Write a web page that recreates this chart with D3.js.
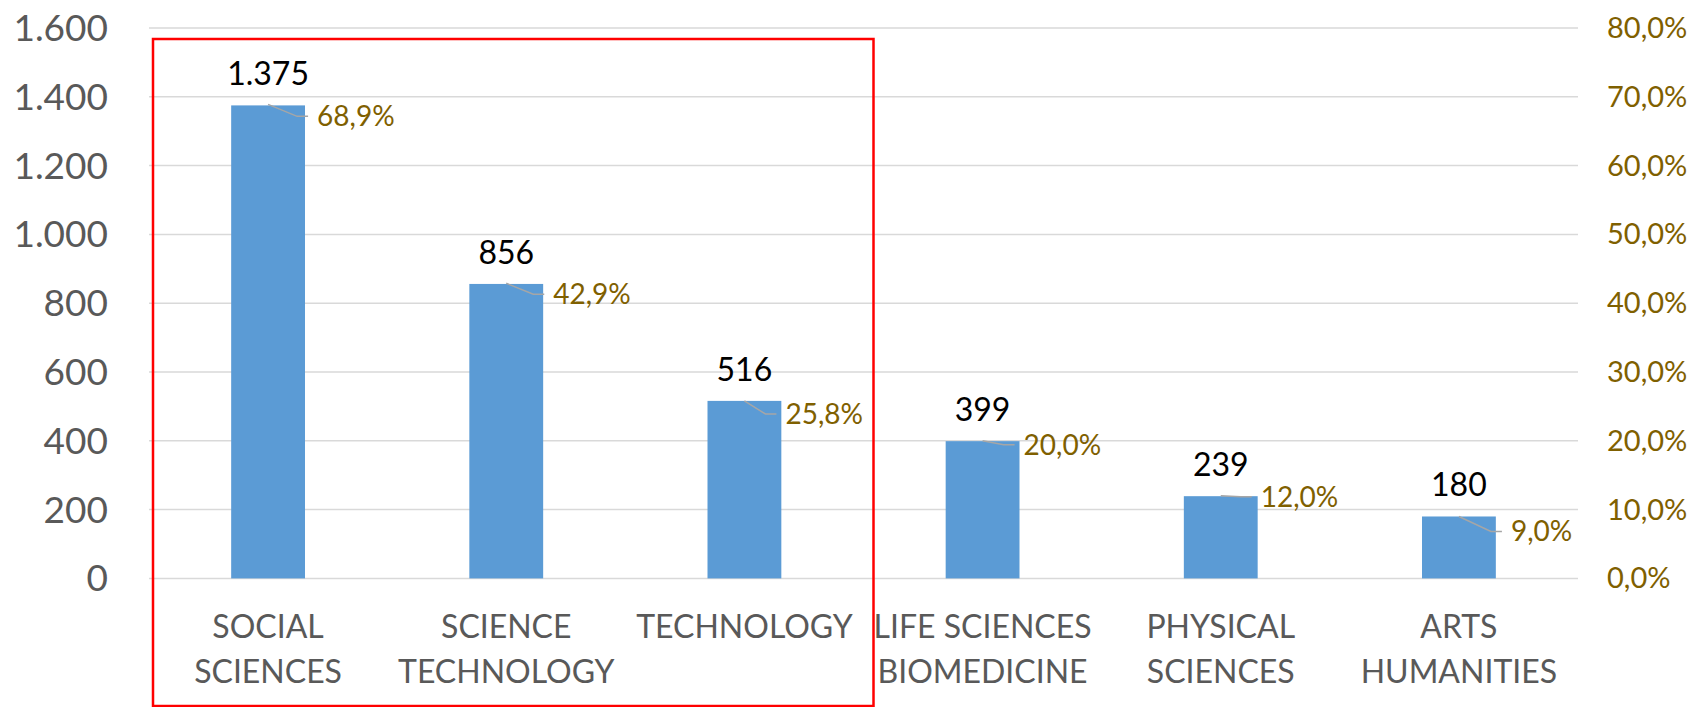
<!DOCTYPE html>
<html>
<head>
<meta charset="utf-8">
<script src="https://cdn.jsdelivr.net/npm/d3@7"></script>
<style>
  html, body { margin: 0; padding: 0; background: #fff; }
  svg { display: block; font-family: Lato, "Open Sans", sans-serif; }
</style>
</head>
<body>
<svg id="chart"></svg>
<script>
const width = 1694, height = 707;

// data
const categories = ["SOCIAL\nSCIENCES", "SCIENCE\nTECHNOLOGY", "TECHNOLOGY",
  "LIFE SCIENCES\nBIOMEDICINE", "PHYSICAL\nSCIENCES", "ARTS\nHUMANITIES"];
const counts = [1375, 856, 516, 399, 239, 180];
const shares = [68.9, 42.9, 25.8, 20.0, 12.0, 9.0]; // percent
const countTicks = [0, 200, 400, 600, 800, 1000, 1200, 1400, 1600];
const shareTicks = [0, 10, 20, 30, 40, 50, 60, 70, 80];
const highlighted = ["SOCIAL\nSCIENCES", "SCIENCE\nTECHNOLOGY", "TECHNOLOGY"];

// manual label nudges (like in the original sheet), px from the point
const shareLabelDx = [49, 47, 41, 41, 40, 52];
const shareLabelDy = [12, 11, 13, 4, 1, 15];

const plot = { left: 149, right: 1578, top: 28, bottom: 578.4 };

const locale = d3.formatLocale({ decimal: ",", thousands: ".", grouping: [3], currency: ["", "€"] });
const fmtCount = locale.format(",d");
const fmtShare = d => locale.format(".1f")(d) + "%";

const svg = d3.select("#chart").attr("width", width).attr("height", height);
svg.append("rect").attr("width", width).attr("height", height).attr("fill", "#fff");

const x = d3.scaleBand()
  .domain(categories)
  .range([plot.left, plot.right])
  .paddingInner(0.69)
  .paddingOuter(0.345);

const y = d3.scaleLinear().domain([0, 1600]).range([plot.bottom, plot.top]);
const y2 = d3.scaleLinear().domain([0, 80]).range([plot.bottom, plot.top]);

// gridlines
svg.append("g")
  .selectAll("line")
  .data(countTicks)
  .join("line")
  .attr("x1", plot.left).attr("x2", plot.right)
  .attr("y1", d => y(d)).attr("y2", d => y(d))
  .attr("stroke", "#d9d9d9").attr("stroke-width", 1.5);

// left axis labels
svg.append("g")
  .selectAll("text")
  .data(countTicks)
  .join("text")
  .attr("x", 108)
  .attr("y", d => y(d) + 13)
  .attr("text-anchor", "end")
  .attr("fill", "#595959")
  .attr("font-size", 37)
  .text(fmtCount);

// right axis labels
svg.append("g")
  .selectAll("text")
  .data(shareTicks)
  .join("text")
  .attr("x", 1607)
  .attr("y", d => y2(d) + 10)
  .attr("fill", "#7f6000")
  .attr("font-size", 29)
  .text(fmtShare);

// bars
svg.append("g")
  .selectAll("rect")
  .data(counts)
  .join("rect")
  .attr("x", (d, i) => x(categories[i]))
  .attr("y", d => y(d))
  .attr("width", x.bandwidth())
  .attr("height", d => y(0) - y(d))
  .attr("fill", "#5b9bd5");

// count labels above bars
svg.append("g")
  .selectAll("text")
  .data(counts)
  .join("text")
  .attr("x", (d, i) => x(categories[i]) + x.bandwidth() / 2)
  .attr("y", d => y(d) - 20)
  .attr("text-anchor", "middle")
  .attr("fill", "#000")
  .attr("font-size", 32)
  .text(fmtCount);

// share labels with leader lines
const shareG = svg.append("g");
shares.forEach((d, i) => {
  const px = x(categories[i]) + x.bandwidth() / 2;
  const py = y2(d);
  const lx = px + shareLabelDx[i];
  const ly = py + shareLabelDy[i];
  shareG.append("path")
    .attr("d", d3.line()([[px, py], [lx - 20, ly], [lx - 9, ly]]))
    .attr("fill", "none")
    .attr("stroke", "#a6a6a6")
    .attr("stroke-width", 1.5);
  shareG.append("text")
    .attr("x", lx)
    .attr("y", ly + 10)
    .attr("fill", "#7f6000")
    .attr("font-size", 28)
    .text(fmtShare(d));
});

// category labels
svg.append("g")
  .selectAll("text")
  .data(categories)
  .join("text")
  .attr("x", d => x(d) + x.bandwidth() / 2)
  .attr("y", 638)
  .attr("text-anchor", "middle")
  .attr("fill", "#595959")
  .attr("font-size", 32)
  .each(function (d) {
    d.split("\n").forEach((line, k) => {
      d3.select(this).append("tspan")
        .attr("x", x(d) + x.bandwidth() / 2)
        .attr("dy", k === 0 ? 0 : 45)
        .text(line);
    });
  });

// red highlight box around the first group
const first = highlighted[0], last = highlighted[highlighted.length - 1];
const gap = (x.step() - x.bandwidth()) / 2;
const boxLeft = x(first) - gap + 4;
const boxRight = x(last) + x.bandwidth() + gap + 10;
svg.append("rect")
  .attr("x", boxLeft)
  .attr("y", 39)
  .attr("width", boxRight - boxLeft)
  .attr("height", 667)
  .attr("fill", "none")
  .attr("stroke", "#ff0000")
  .attr("stroke-width", 2.5);
</script>
</body>
</html>
